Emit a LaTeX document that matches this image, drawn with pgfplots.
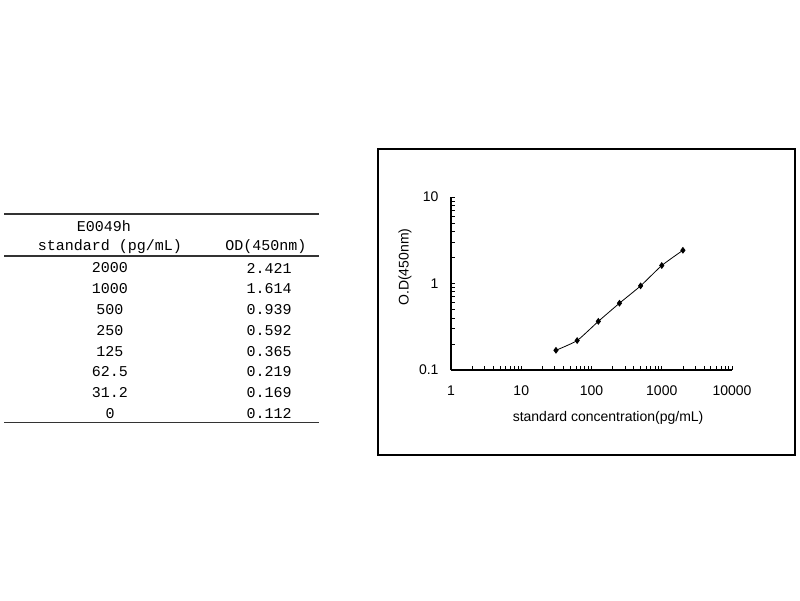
\documentclass[border=0pt]{standalone}
\usepackage{fontspec}
\setmainfont{Liberation Sans}
\newfontfamily\tabfont{Liberation Mono}
\usepackage{pgfplots}
\pgfplotsset{compat=1.18}

\begin{document}
\begin{tikzpicture}[x=1pt,y=1pt]
  \path[use as bounding box] (0,0) rectangle (800,600);

  % table on the left
  \draw[line width=1.2pt, black!80] (4,386) -- (319,386);
  \draw[line width=1.2pt, black!80] (4,344) -- (319,344);
  \draw[line width=1.2pt, black!80] (4,177.5) -- (319,177.5);
  \begin{scope}[every node/.style={font=\tabfont\fontsize{15}{17}\selectfont, inner sep=0pt, anchor=center}]
    \node at (104,374) {E0049h};
    \node at (110,353) {standard (pg/mL)};
    \node at (266,353) {OD(450nm)};
    \foreach \c/\v [count=\i] in {2000/2.421, 1000/1.614, 500/0.939, 250/0.592, 125/0.365, 62.5/0.219, 31.2/0.169, 0/0.112} {
      \node at (110,{332-20.8*(\i-1)}) {\c};
      \node at (269,{332-20.8*(\i-1)}) {\v};
    }
  \end{scope}

  % frame round the chart
  \draw[line width=1.1pt] (378,145) rectangle (795,451);

  \begin{axis}[
      at={(451pt,230pt)}, anchor=south west,
      scale only axis, width=281pt, height=173pt,
      xmode=log, ymode=log,
      xmin=1, xmax=10000, ymin=0.1, ymax=10,
      axis x line*=bottom, axis y line*=left,
      axis line style={-, line width=1.2pt},
      xtick={1,10,100,1000,10000},
      xticklabels={1,10,100,1000,10000},
      ytick={0.1,1,10},
      yticklabels={0.1,1,10},
      tick align=inside,
      major tick length=4pt, minor tick length=4pt,
      tick style={black, line width=0.8pt},
      tick label style={font=\fontsize{14}{16}\selectfont},
      xticklabel style={yshift=-12.5pt},
      yticklabel style={xshift=-9pt},
      xlabel={standard concentration(pg/mL)},
      ylabel={O.D(450nm)},
      label style={font=\fontsize{14}{16}\selectfont},
      xlabel style={at={(axis description cs:0.559,-0.2775)}, anchor=center},
      ylabel style={at={(axis description cs:-0.1637,0.595)}, anchor=center},
      clip=false,
  ]
  \addplot[black, line width=0.8pt, smooth, tension=0.3,
           mark=diamond*, mark size=2.8pt, mark options={solid, fill=black}]
    coordinates {(31.2,0.169) (62.5,0.219) (125,0.365) (250,0.592) (500,0.939) (1000,1.614) (2000,2.421)};
  \end{axis}
\end{tikzpicture}
\end{document}
